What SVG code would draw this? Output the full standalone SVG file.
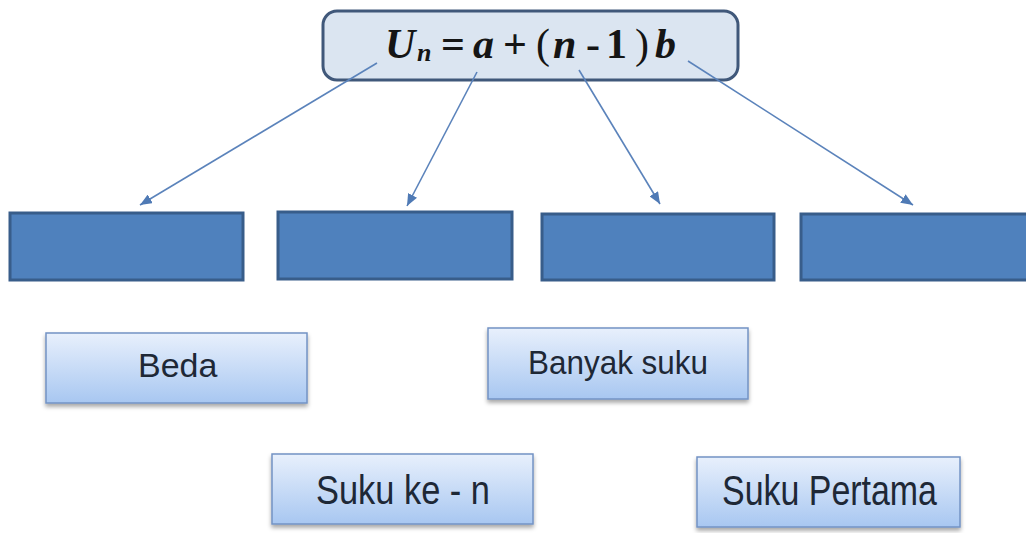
<svg xmlns="http://www.w3.org/2000/svg" width="1026" height="533" viewBox="0 0 1026 533">
<style>
.blk{fill:#4f81bd;stroke:#385d8a;stroke-width:3}
.lbl{fill:url(#g);stroke:#7393c4;stroke-width:1.5;filter:url(#sh)}
.lt{font-family:"Liberation Sans",Arial,sans-serif;fill:#1e2836;text-anchor:start}
.conn{stroke:#5b83bb;stroke-width:1.6;fill:none;marker-end:url(#ah)}
.m{font-family:"Liberation Serif","Times New Roman",serif;font-weight:bold;fill:#151515}
.i{font-style:italic}
</style>
<defs>
<linearGradient id="g" x1="0" y1="0" x2="0" y2="1">
<stop offset="0" stop-color="#e8f0fc"/>
<stop offset="1" stop-color="#a8c7f1"/>
</linearGradient>
<filter id="sh" x="-10%" y="-10%" width="120%" height="140%">
<feDropShadow dx="0" dy="3" stdDeviation="2" flood-color="#000" flood-opacity="0.35"/>
</filter>
<marker id="ah" viewBox="0 0 12 10" refX="12" refY="5" markerWidth="12" markerHeight="10" markerUnits="userSpaceOnUse" orient="auto">
<path d="M0,0 L12,5 L0,10 Z" fill="#4f7ab5"/>
</marker>
</defs>
<rect width="1026" height="533" fill="#ffffff"/>
<g id="formula">
<rect x="323" y="11" width="415" height="69" rx="14" fill="#dbe5f1" stroke="#40587a" stroke-width="3"/>
<text class="m" font-size="42" y="58"><tspan class="i" x="385">U</tspan><tspan class="i" x="417" y="61" font-size="26">n</tspan><tspan x="441" y="58">=</tspan><tspan class="i" x="473">a</tspan><tspan x="503">+</tspan><tspan x="536" font-weight="normal">(</tspan><tspan class="i" x="553">n</tspan><tspan x="586">-</tspan><tspan x="606">1</tspan><tspan x="635" font-weight="normal">)</tspan><tspan class="i" x="655">b</tspan></text>
</g>
<g id="connectors">
<line class="conn" x1="377" y1="63" x2="140" y2="205"/>
<line class="conn" x1="477" y1="72" x2="407" y2="206"/>
<line class="conn" x1="579" y1="70" x2="660" y2="204"/>
<line class="conn" x1="688" y1="61" x2="913" y2="205"/>
</g>
<g id="box1"><rect class="blk" x="10" y="213" width="233" height="67"/></g>
<g id="box2"><rect class="blk" x="278" y="212" width="234" height="67"/></g>
<g id="box3"><rect class="blk" x="542" y="214" width="232" height="66"/></g>
<g id="box4"><rect class="blk" x="801" y="214" width="240" height="66"/></g>
<g id="beda">
<rect class="lbl" x="46" y="333" width="261" height="70"/>
<text class="lt" x="138" y="377" font-size="34">Beda</text>
</g>
<g id="banyak">
<rect class="lbl" x="488" y="328" width="260" height="71"/>
<text class="lt" x="528" y="374" font-size="34" textLength="180" lengthAdjust="spacingAndGlyphs">Banyak suku</text>
</g>
<g id="sukuken">
<rect class="lbl" x="272" y="454" width="261" height="70"/>
<text class="lt" x="316" y="504" font-size="41" textLength="174" lengthAdjust="spacingAndGlyphs">Suku ke - n</text>
</g>
<g id="pertama">
<rect class="lbl" x="697" y="457" width="263" height="70"/>
<text class="lt" x="722" y="505" font-size="42" textLength="215" lengthAdjust="spacingAndGlyphs">Suku Pertama</text>
</g>
</svg>
